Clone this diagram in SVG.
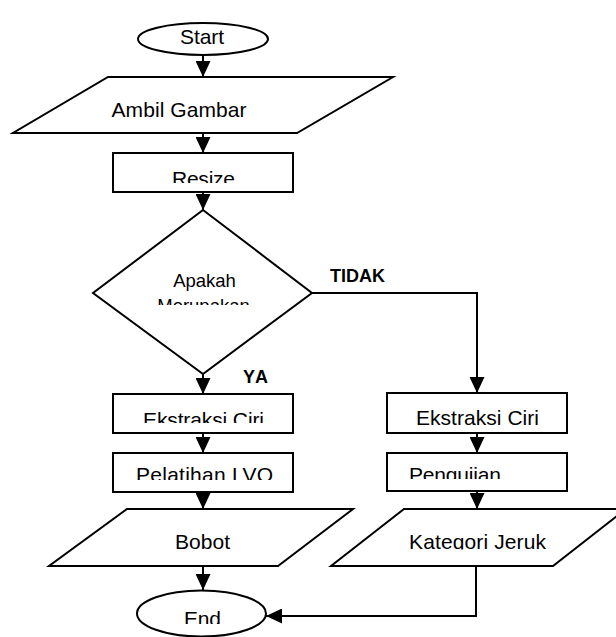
<svg xmlns="http://www.w3.org/2000/svg" width="616" height="637" viewBox="0 0 616 637">
<style>
.s{fill:#fff;stroke:#000;stroke-width:2}
.t{font-family:"Liberation Sans",Arial,sans-serif;font-size:21px;fill:#000}
.d{font-family:"Liberation Sans",Arial,sans-serif;font-size:18.5px;fill:#000}
.b{font-family:"Liberation Sans",Arial,sans-serif;font-size:18px;font-weight:bold;fill:#000}
.c{fill:none;stroke:#000;stroke-width:2}
</style>
<defs>
<marker id="ah" viewBox="0 0 16 15" refX="16" refY="7.5" markerWidth="16" markerHeight="15" markerUnits="userSpaceOnUse" orient="auto">
<path d="M0,0 L16,7.5 L0,15 z" fill="#000"/>
</marker>
<clipPath id="cResize"><rect x="113" y="153" width="180" height="30"/></clipPath>
<clipPath id="cDia"><rect x="93" y="210" width="220" height="95"/></clipPath>
<clipPath id="cEkL"><rect x="113" y="394" width="180" height="29"/></clipPath>
<clipPath id="cPel"><rect x="113" y="453" width="180" height="27"/></clipPath>
<clipPath id="cPen"><rect x="387" y="453" width="180" height="26"/></clipPath>
<clipPath id="cKat"><rect x="330" y="509" width="290" height="40.5"/></clipPath>
<clipPath id="cEnd"><rect x="137" y="590" width="130" height="34"/></clipPath>
</defs>
<g id="connectors">
<path class="c" d="M203,55 V77" marker-end="url(#ah)"/>
<path class="c" d="M203,133 V153" marker-end="url(#ah)"/>
<path class="c" d="M203,192 V210" marker-end="url(#ah)"/>
<path class="c" d="M203,374 V394" marker-end="url(#ah)"/>
<path class="c" d="M312,293 H477 V393" marker-end="url(#ah)"/>
<path class="c" d="M203,433 V453" marker-end="url(#ah)"/>
<path class="c" d="M203,492 V509" marker-end="url(#ah)"/>
<path class="c" d="M203,566 V590" marker-end="url(#ah)"/>
<path class="c" d="M477,433 V453" marker-end="url(#ah)"/>
<path class="c" d="M477,491 V509" marker-end="url(#ah)"/>
<path class="c" d="M476,566 V616 H266" marker-end="url(#ah)"/>
<text class="b" x="330" y="282" textLength="55">TIDAK</text>
<text class="b" x="243" y="383" textLength="25">YA</text>
</g>
<g id="start">
<ellipse class="s" cx="203" cy="39" rx="65" ry="16"/>
<text class="t" x="202" y="43.5" text-anchor="middle" textLength="44">Start</text>
</g>
<g id="ambil">
<polygon class="s" points="108,77 393,77 297,133 13,133"/>
<text class="t" x="179" y="116.5" text-anchor="middle" textLength="135">Ambil Gambar</text>
</g>
<g id="resize">
<rect class="s" x="113" y="153" width="180" height="39"/>
<text class="t" x="203.5" y="186" text-anchor="middle" textLength="63" clip-path="url(#cResize)">Resize</text>
</g>
<g id="decision">
<polygon class="s" points="203,210 312,293 203,374 93,293"/>
<g clip-path="url(#cDia)">
<text class="d" x="204.5" y="287" text-anchor="middle">Apakah</text>
<text class="d" x="203.5" y="312" text-anchor="middle">Merupakan</text>
</g>
</g>
<g id="ekstraksi1">
<rect class="s" x="113" y="394" width="180" height="39"/>
<text class="t" x="203.5" y="427" text-anchor="middle" textLength="121" clip-path="url(#cEkL)">Ekstraksi Ciri</text>
</g>
<g id="pelatihan">
<rect class="s" x="113" y="453" width="180" height="39"/>
<text class="t" x="204.5" y="482" text-anchor="middle" textLength="137" clip-path="url(#cPel)">Pelatihan LVQ</text>
</g>
<g id="bobot">
<polygon class="s" points="127,509 353,509 278,566 49,566"/>
<text class="t" x="202.5" y="549" text-anchor="middle" textLength="55">Bobot</text>
</g>
<g id="end">
<ellipse class="s" cx="201.5" cy="613.5" rx="64.5" ry="23"/>
<text class="t" x="202.5" y="626" text-anchor="middle" textLength="37" clip-path="url(#cEnd)">End</text>
</g>
<g id="ekstraksi2">
<rect class="s" x="387" y="393" width="180" height="40"/>
<text class="t" x="477.5" y="425" text-anchor="middle" textLength="123">Ekstraksi Ciri</text>
</g>
<g id="pengujian">
<rect class="s" x="387" y="453" width="180" height="38"/>
<text class="t" x="409" y="482" textLength="92" clip-path="url(#cPen)">Pengujian</text>
</g>
<g id="kategori">
<polygon class="s" points="404,509 626,509 553,566 331,566"/>
<text class="t" x="477.5" y="549" text-anchor="middle" textLength="137" clip-path="url(#cKat)">Kategori Jeruk</text>
</g>
</svg>
